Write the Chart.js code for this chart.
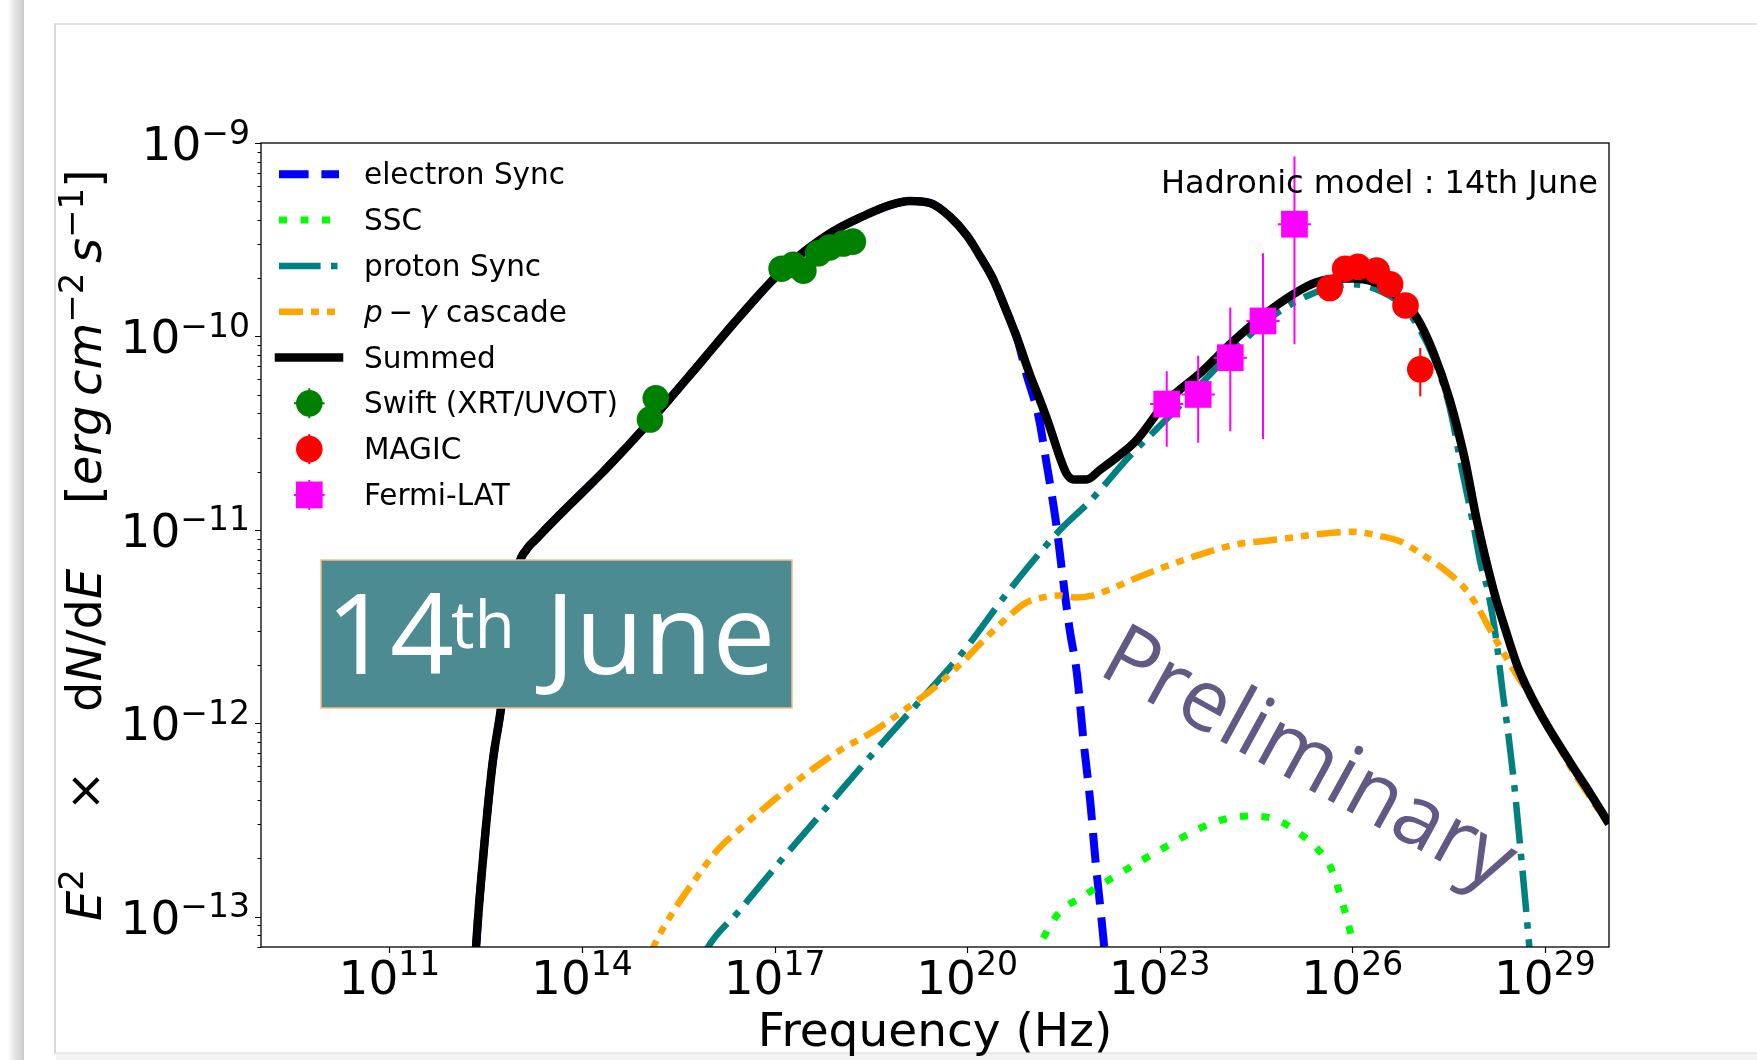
<!DOCTYPE html>
<html>
<head>
<meta charset="utf-8">
<title>Hadronic model : 14th June</title>
<script src="https://cdn.jsdelivr.net/npm/chart.js@4.4.0/dist/chart.umd.min.js"></script>
<style>
  html, body { margin: 0; padding: 0; background: #fff; }
  #page { position: relative; width: 1757px; height: 1060px; overflow: hidden; background: #fff; }
  .shade { position: absolute; left: 8px; top: 0; width: 16px; height: 1060px;
           background: linear-gradient(to right, rgba(215,215,215,0) 0%, #e4e4e4 45%, #d0d0d0 88%, #c8c8c8 100%); }
  .slide { position: absolute; left: 54px; top: 23px; width: 1720px; height: 1027px;
           border-top: 2px solid #e4e4e4; border-left: 2px solid #d8d8d8; border-bottom: 2px solid #e8e8e8; }
  .under { position: absolute; left: 56px; top: 1054px; width: 1701px; height: 6px; background: #f3f3f3; }
  #sed { position: absolute; left: 0; top: 0; }
</style>
</head>
<body>
<div id="page">
  <div class="shade"></div>
  <div class="slide"></div>
  <div class="under"></div>
  <canvas id="sed" width="1757" height="1060"></canvas>
</div>
<script>
// ---- SED samples: log10(frequency / Hz) and log10(flux / erg cm^-2 s^-1) ----
const sumLogNu = [12.32,12.35,12.47,12.61,12.74,12.88,13.01,13.14,13.28,13.66,14.36,15.06,15.76,16.45,17.15,17.85,18.37,18.81,19.11,19.42,19.73,20.00,20.21,20.40,20.59,20.78,20.97,21.17,21.29,21.45,21.55,21.66,21.86,22.07,22.39,22.63,23.10,23.63,24.13,24.66,25.09,25.44,25.79,26.02,26.26,26.49,26.75,27.00,27.26,27.52,27.75,27.94,28.20,28.39,28.58,28.88,29.37,29.72,30.00];
const sumLogFlux = [-13.36,-13.16,-12.66,-12.20,-11.92,-11.50,-11.19,-11.10,-11.05,-10.92,-10.69,-10.44,-10.17,-9.90,-9.65,-9.47,-9.38,-9.32,-9.30,-9.31,-9.38,-9.48,-9.59,-9.70,-9.85,-10.01,-10.19,-10.36,-10.47,-10.63,-10.71,-10.74,-10.74,-10.69,-10.61,-10.54,-10.34,-10.19,-10.03,-9.88,-9.78,-9.72,-9.70,-9.70,-9.71,-9.74,-9.81,-9.90,-10.08,-10.33,-10.63,-10.95,-11.31,-11.52,-11.71,-11.92,-12.19,-12.37,-12.52];

const elecLogNu = [12.32,12.35,12.47,12.61,12.74,12.88,13.01,13.14,13.28,13.66,14.36,15.06,15.76,16.45,17.15,17.85,18.37,18.81,19.11,19.42,19.73,20.00,20.21,20.40,20.59,20.78,20.92,21.11,21.24,21.38,21.50,21.60,21.71,21.81,21.92,22.00,22.09,22.16];
const elecLogFlux = [-13.36,-13.16,-12.66,-12.20,-11.92,-11.50,-11.19,-11.10,-11.05,-10.92,-10.69,-10.44,-10.17,-9.90,-9.65,-9.47,-9.38,-9.32,-9.30,-9.31,-9.38,-9.48,-9.59,-9.70,-9.85,-10.01,-10.19,-10.41,-10.66,-10.95,-11.27,-11.52,-11.74,-12.08,-12.41,-12.71,-13.00,-13.24];

const sscLogNu = [21.03,21.17,21.43,21.78,22.21,22.98,23.87,24.41,24.83,25.18,25.46,25.67,25.84,25.97,26.05];
const sscLogFlux = [-13.21,-13.12,-12.98,-12.90,-12.81,-12.66,-12.51,-12.48,-12.50,-12.57,-12.65,-12.75,-12.92,-13.08,-13.21];

const protLogNu = [15.89,15.96,16.45,17.15,17.85,18.55,19.25,19.94,20.64,21.45,21.92,22.53,23.10,23.63,24.13,24.66,25.18,25.62,26.02,26.40,26.75,27.01,27.28,27.52,27.71,27.89,28.01,28.11,28.24,28.34,28.44,28.53,28.62,28.71,28.78];
const protLogFlux = [-13.21,-13.16,-12.97,-12.69,-12.42,-12.15,-11.89,-11.63,-11.32,-11.00,-10.85,-10.62,-10.43,-10.25,-10.08,-9.92,-9.81,-9.75,-9.73,-9.76,-9.83,-9.94,-10.12,-10.37,-10.69,-10.98,-11.19,-11.31,-11.56,-11.83,-12.08,-12.34,-12.65,-12.97,-13.24];

const cascLogNu = [15.02,15.11,15.41,15.76,16.10,16.45,16.98,17.50,18.02,18.55,19.07,19.51,19.94,20.29,20.64,20.90,21.17,21.43,21.69,21.95,22.21,22.56,23.09,23.61,24.13,24.83,25.53,26.05,26.40,26.75,27.10,27.45,27.82,28.24,28.58,28.83,29.37,29.72,30.00];
const cascLogFlux = [-13.24,-13.16,-12.98,-12.81,-12.66,-12.55,-12.40,-12.26,-12.14,-12.04,-11.92,-11.81,-11.68,-11.56,-11.45,-11.38,-11.35,-11.34,-11.35,-11.34,-11.31,-11.26,-11.19,-11.13,-11.08,-11.05,-11.02,-11.01,-11.03,-11.06,-11.13,-11.21,-11.33,-11.57,-11.76,-11.88,-12.21,-12.39,-12.53];

// ---- Measurements ----
const swiftLogNu = [15.06,15.15,17.11,17.29,17.45,17.68,17.86,18.07,18.22];
const swiftLogFlux = [-10.43,-10.32,-9.65,-9.63,-9.66,-9.57,-9.54,-9.52,-9.51];

const magicLogNu = [25.65,25.89,26.09,26.38,26.59,26.83,27.06];
const magicLogFlux = [-9.75,-9.65,-9.64,-9.66,-9.73,-9.84,-10.17];
const magicLogFluxHi = [-9.71,-9.62,-9.61,-9.63,-9.69,-9.79,-10.06];
const magicLogFluxLo = [-9.79,-9.68,-9.67,-9.69,-9.77,-9.90,-10.31];

const fermiLogNu = [23.11,23.60,24.10,24.61,25.10];
const fermiLogFlux = [-10.35,-10.30,-10.11,-9.92,-9.42];
const fermiLogFluxHi = [-10.18,-10.10,-9.85,-9.57,-9.07];
const fermiLogFluxLo = [-10.57,-10.55,-10.49,-10.53,-10.04];
const fermiLogBinHalf = [0.26,0.26,0.26,0.26,0.26];

// ---- Axis tick labels (powers of ten) ----
const xTickExponents = [11,14,17,20,23,26,29];
const yTickExponents = [-9,-10,-11,-12,-13];

const pow10 = v => Math.pow(10, v);
const toPoints = (lx, ly) => lx.map((v, i) => ({ x: pow10(v), y: pow10(ly[i]) }));

const fermiErrors = fermiLogNu.map((v, i) => ({
  x: pow10(v), y: pow10(fermiLogFlux[i]),
  yLo: pow10(fermiLogFluxLo[i]), yHi: pow10(fermiLogFluxHi[i]),
  xLo: pow10(v - fermiLogBinHalf[i]), xHi: pow10(v + fermiLogBinHalf[i])
}));
const magicErrors = magicLogNu.map((v, i) => ({
  x: pow10(v), y: pow10(magicLogFlux[i]),
  yLo: pow10(magicLogFluxLo[i]), yHi: pow10(magicLogFluxHi[i])
}));

const curve = (label, lx, ly, color, width, dash, order) => ({
  label, data: toPoints(lx, ly), borderColor: color, backgroundColor: color,
  borderWidth: width, borderDash: dash, borderCapStyle: 'butt', borderJoinStyle: 'round',
  pointRadius: 0, cubicInterpolationMode: 'monotone', fill: false, clip: 0, order
});
const points = (label, lx, ly, color, style, radius, order, errors) => ({
  label, data: toPoints(lx, ly), showLine: false, pointStyle: style, pointRadius: radius,
  pointBackgroundColor: color, pointBorderColor: color, pointBorderWidth: 0,
  borderColor: color, backgroundColor: color, clip: 0, order, errorBars: errors || null
});

const datasets = [
  points('Fermi-LAT', fermiLogNu, fermiLogFlux, '#ff00ff', 'rect', 18.9, 0, fermiErrors),
  points('MAGIC', magicLogNu, magicLogFlux, '#ff0000', 'circle', 13.3, 1, magicErrors),
  points('Swift (XRT/UVOT)', swiftLogNu, swiftLogFlux, '#008000', 'circle', 13.3, 2),
  curve('Summed', sumLogNu, sumLogFlux, '#000000', 8.5, [], 3),
  curve('p − γ cascade', cascLogNu, cascLogFlux, '#ffa500', 6.5, [24, 8, 8, 8, 8, 8], 4),
  curve('proton Sync', protLogNu, protLogFlux, '#008080', 6.5, [41.6, 10.4, 6.5, 10.4], 5),
  curve('SSC', sscLogNu, sscLogFlux, '#00ff00', 7, [8, 13.5], 6),
  curve('electron Sync', elecLogNu, elecLogFlux, '#0000ff', 8, [29.6, 12.8], 7)
];

// ---- text helpers ----
const FAM = '"DejaVu Sans", sans-serif';
const SLIDE_FONT = '"Open Sans", "Noto Sans", sans-serif';
function drawRuns(ctx, runs, x, y) {
  let cx = x;
  for (const r of runs) {
    ctx.font = r.f;
    ctx.fillText(r.t, cx, y + (r.dy || 0));
    cx += ctx.measureText(r.t).width;
  }
  return cx - x;
}
function runsWidth(ctx, runs) {
  let w = 0;
  for (const r of runs) { ctx.font = r.f; w += ctx.measureText(r.t).width; }
  return w;
}
function powerRuns(exp, big, small, raise) {
  const e = exp < 0 ? '\u2212' + Math.abs(exp) : String(exp);
  return [{ t: '10', f: big + 'px ' + FAM }, { t: e, f: small + 'px ' + FAM, dy: -raise }];
}

const decor = {
  id: 'sedDecor',
  beforeDatasetDraw(chart, args) {
    const ds = chart.data.datasets[args.index];
    if (!ds.errorBars) return;
    const { ctx } = chart;
    const xs = chart.scales.x, ys = chart.scales.y;
    ctx.save();
    ctx.strokeStyle = ds.pointBackgroundColor;
    ctx.lineWidth = 2;
    ctx.setLineDash([]);
    for (const e of ds.errorBars) {
      const px = xs.getPixelForValue(e.x), py = ys.getPixelForValue(e.y);
      ctx.beginPath();
      ctx.moveTo(px, ys.getPixelForValue(e.yLo));
      ctx.lineTo(px, ys.getPixelForValue(e.yHi));
      if (e.xLo !== undefined) {
        ctx.moveTo(xs.getPixelForValue(e.xLo), py);
        ctx.lineTo(xs.getPixelForValue(e.xHi), py);
      }
      ctx.stroke();
    }
    ctx.restore();
  },
  afterDraw(chart) {
    const { ctx, chartArea: a } = chart;
    const xs = chart.scales.x, ys = chart.scales.y;
    ctx.save();
    ctx.setLineDash([]);
    ctx.fillStyle = '#000';
    ctx.strokeStyle = '#000';

    // axes frame
    ctx.lineWidth = 1.3;
    ctx.strokeRect(a.left, a.top, a.right - a.left, a.bottom - a.top);

    // y ticks: decades plus 2..9 minors
    ctx.lineWidth = 1.2;
    ctx.beginPath();
    for (let k = -14; k <= -9; k++) {
      for (let m = 1; m <= 9; m++) {
        const v = m * Math.pow(10, k);
        if (v < ys.min * 0.999 || v > ys.max * 1.001) continue;
        const py = Math.round(ys.getPixelForValue(v)) + 0.5;
        ctx.moveTo(a.left - (m === 1 ? 6 : 3.5), py);
        ctx.lineTo(a.left, py);
      }
    }
    // x ticks at labelled decades
    for (const k of xTickExponents) {
      const px = Math.round(xs.getPixelForValue(Math.pow(10, k))) + 0.5;
      ctx.moveTo(px, a.bottom);
      ctx.lineTo(px, a.bottom + 6);
    }
    ctx.stroke();

    // tick labels
    ctx.textAlign = 'left';
    ctx.textBaseline = 'alphabetic';
    for (const k of yTickExponents) {
      const py = ys.getPixelForValue(Math.pow(10, k));
      const r = powerRuns(k, 47, 33, 16.5);
      const w = runsWidth(ctx, r);
      drawRuns(ctx, r, 250 - w, py + 17);
    }
    for (const k of xTickExponents) {
      const px = xs.getPixelForValue(Math.pow(10, k));
      const r = powerRuns(k, 47, 33, 19);
      const w = runsWidth(ctx, r);
      drawRuns(ctx, r, px - w / 2, 994);
    }

    // x-axis title
    ctx.font = '47px ' + FAM;
    ctx.textAlign = 'center';
    ctx.fillText('Frequency (Hz)', (a.left + a.right) / 2, 1046);
    ctx.textAlign = 'left';

    // y-axis title, read bottom to top
    const R = '48px ' + FAM, I = 'italic 48px ' + FAM, S = '34px ' + FAM;
    ctx.save();
    ctx.translate(101, 921);
    ctx.rotate(-Math.PI / 2);
    drawRuns(ctx, [{ t: 'E', f: I }, { t: '2', f: S, dy: -18 }], 0, 0);
    ctx.font = R;
    const tw = ctx.measureText('\u00d7').width;
    ctx.fillText('\u00d7', 130 - tw / 2, 0);
    drawRuns(ctx, [{ t: 'd', f: R }, { t: 'N', f: I }, { t: '/', f: R }, { t: 'd', f: R }, { t: 'E', f: I }], 209, 0);
    drawRuns(ctx, [
      { t: '[', f: R }, { t: 'erg', f: I }, { t: '\u2009', f: R }, { t: 'cm', f: I },
      { t: '\u22122', f: S, dy: -18 }, { t: '\u2009', f: R }, { t: 's', f: I }, { t: '\u22121', f: S, dy: -18 }, { t: ']', f: R }
    ], 417, 0);
    ctx.restore();

    // legend
    const L = '29.5px ' + FAM, LI = 'italic 29.5px ' + FAM;
    const byLabel = {};
    chart.data.datasets.forEach(d => { byLabel[d.label] = d; });
    const legendOrder = ['electron Sync', 'SSC', 'proton Sync', 'p − γ cascade', 'Summed', 'Swift (XRT/UVOT)', 'MAGIC', 'Fermi-LAT'];
    const legendText = {
      'p − γ cascade': [{ t: 'p', f: LI }, { t: '\u2009\u2212\u2009', f: L }, { t: '\u03b3', f: LI }, { t: ' cascade', f: L }]
    };
    const row0 = 174.3, step = 45.8, hx0 = 279, hx1 = 339, mx = 309.3, tx = 364;
    legendOrder.forEach((name, i) => {
      const d = byLabel[name];
      const yy = row0 + i * step;
      ctx.save();
      if (d.showLine === false) {
        ctx.strokeStyle = d.pointBackgroundColor;
        ctx.fillStyle = d.pointBackgroundColor;
        ctx.lineWidth = 2;
        ctx.beginPath();
        ctx.moveTo(mx, yy - 15); ctx.lineTo(mx, yy + 15);
        if (d.pointStyle === 'rect' || name.startsWith('Swift')) { ctx.moveTo(mx - 15.3, yy); ctx.lineTo(mx + 15.3, yy); }
        ctx.stroke();
        ctx.beginPath();
        if (d.pointStyle === 'rect') {
          const s = d.pointRadius * Math.SQRT1_2;
          ctx.rect(mx - s, yy - s, 2 * s, 2 * s);
        } else {
          ctx.arc(mx, yy, d.pointRadius, 0, Math.PI * 2);
        }
        ctx.fill();
      } else {
        ctx.strokeStyle = d.borderColor;
        ctx.lineWidth = d.borderWidth;
        ctx.setLineDash(d.borderDash || []);
        ctx.lineCap = (d.borderDash && d.borderDash.length) ? 'butt' : 'square';
        ctx.beginPath();
        ctx.moveTo(hx0, yy); ctx.lineTo(hx1, yy);
        ctx.stroke();
      }
      ctx.restore();
      ctx.fillStyle = '#000';
      drawRuns(ctx, legendText[name] || [{ t: name, f: L }], tx, yy + 10);
    });

    // model annotation
    ctx.font = '32px ' + FAM;
    ctx.textAlign = 'right';
    ctx.fillText('Hadronic model : 14th June', 1598, 193);
    ctx.textAlign = 'left';

    // date badge
    ctx.fillStyle = '#4b8b91';
    ctx.fillRect(321, 560, 471, 148);
    ctx.strokeStyle = '#f6bd86';
    ctx.lineWidth = 1.5;
    ctx.strokeRect(321, 560, 471, 148);
    ctx.fillStyle = '#ffffff';
    ctx.font = '112px ' + SLIDE_FONT;
    ctx.fillText('14', 326, 674);
    ctx.font = '66px ' + SLIDE_FONT;
    ctx.fillText('th', 451, 648);
    ctx.font = '112px ' + SLIDE_FONT;
    ctx.fillText('June', 545, 674);

    // watermark
    ctx.save();
    ctx.translate(1096, 673);
    ctx.rotate(28.7 * Math.PI / 180);
    ctx.fillStyle = '#635985';
    ctx.font = '85.5px ' + SLIDE_FONT;
    ctx.fillText('Preliminary', 0, 0);
    ctx.restore();

    ctx.restore();
  }
};

new Chart(document.getElementById('sed'), {
  type: 'line',
  data: { datasets },
  options: {
    responsive: false,
    devicePixelRatio: 1,
    animation: false,
    events: [],
    layout: { padding: { left: 0, top: 143, right: 148, bottom: 0 } },
    plugins: { legend: { display: false }, tooltip: { enabled: false }, title: { display: false } },
    scales: {
      x: {
        type: 'logarithmic', min: 1e9, max: 1e30,
        grid: { display: false }, border: { display: false },
        ticks: { display: false },
        afterFit: s => { s.height = 113; }
      },
      y: {
        type: 'logarithmic', min: Math.pow(10, -13.157), max: 1e-9,
        grid: { display: false }, border: { display: false },
        ticks: { display: false },
        afterFit: s => { s.width = 261; }
      }
    }
  },
  plugins: [decor]
});
</script>
</body>
</html>
